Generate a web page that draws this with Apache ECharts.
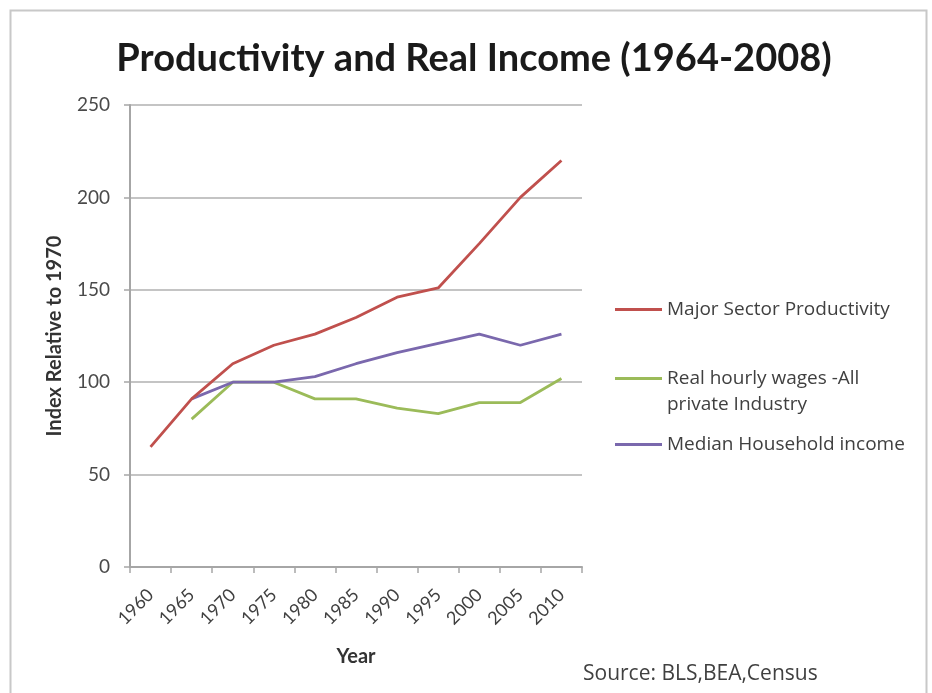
<!DOCTYPE html>
<html>
<head>
<meta charset="utf-8">
<script src="https://cdn.jsdelivr.net/npm/echarts@6/dist/echarts.min.js"></script>
<style>
html,body{margin:0;padding:0;background:#fff;}
#chart{width:932px;height:693px;}
</style>
</head>
<body>
<div id="chart"></div>
<script>
const years = ['1960','1965','1970','1975','1980','1985','1990','1995','2000','2005','2010'];
const productivity = [65, 91, 110, 120, 126, 135, 146, 151, 175, 200, 220];
const wages = [null, 80, 100, 100, 91, 91, 86, 83, 89, 89, 102];
const household = [null, 91, 100, 100, 103, 110, 116, 121, 126, 120, 126];
const yTicks = [0, 50, 100, 150, 200, 250];
const seriesNames = ['Major Sector Productivity', 'Real hourly wages -All', 'Median Household income'];
const colors = ['#c0504d', '#9bbb59', '#7a68ad'];

const FONT = 'Lato, "Open Sans", sans-serif';
const LFONT = '"Open Sans", Lato, sans-serif';
const chart = echarts.init(document.getElementById('chart'));

function lg(i, top) {
  return {
    data: [seriesNames[i]],
    left: 615, top: top, padding: 0,
    orient: 'vertical',
    icon: 'rect', itemWidth: 47, itemHeight: 3, itemGap: 0,
    selectedMode: false,
    textStyle: {fontFamily: LFONT, fontSize: 19, color: '#404040'}
  };
}

chart.setOption({
  animation: false,
  backgroundColor: '#fff',
  title: {
    text: 'Productivity and Real Income (1964-2008)',
    left: 474, top: 40, textAlign: 'center', padding: 0,
    textStyle: {fontFamily: FONT, fontSize: 38, fontWeight: 'bold', color: '#1a1a1a'}
  },
  graphic: [
    {type: 'rect', shape: {x: 10.5, y: 10.5, width: 916, height: 720}, style: {fill: 'none', stroke: '#c8c8c8', lineWidth: 2}, silent: true},
    {type: 'text', left: 583, top: 664, style: {text: 'Source: BLS,BEA,Census', fontFamily: LFONT, fontSize: 21, fill: '#404040'}},
    {type: 'text', left: 667, top: 395, style: {text: 'private Industry', fontFamily: LFONT, fontSize: 19, fill: '#404040'}}
  ],
  legend: [
    lg(0, 300),
    lg(1, 369),
    lg(2, 435)
  ],
  grid: {left: 130, right: 350, top: 105, bottom: 126, containLabel: false},
  xAxis: {
    type: 'category',
    data: years,
    boundaryGap: true,
    name: 'Year',
    nameLocation: 'middle',
    nameGap: 80,
    nameTextStyle: {fontFamily: FONT, fontSize: 20, fontWeight: 'bold', color: '#333'},
    axisLine: {lineStyle: {color: '#a6a6a6', width: 2}},
    axisTick: {show: true, length: 6, lineStyle: {color: '#a6a6a6', width: 1.5}},
    axisLabel: {rotate: 45, margin: 25, fontFamily: FONT, fontSize: 18, color: '#404040'},
    splitLine: {show: false}
  },
  yAxis: {
    type: 'value',
    min: 0, max: 250, interval: 50,
    name: 'Index Relative to 1970',
    nameLocation: 'middle',
    nameGap: 65,
    nameTextStyle: {fontFamily: FONT, fontSize: 20, fontWeight: 'bold', color: '#333'},
    axisLine: {show: true, lineStyle: {color: '#a6a6a6', width: 2}},
    axisTick: {show: true, length: 6, lineStyle: {color: '#a6a6a6', width: 1.5}},
    axisLabel: {margin: 20, fontFamily: FONT, fontSize: 19, color: '#4a4a4a',
      formatter: v => yTicks.includes(v) ? String(v) : ''},
    splitLine: {lineStyle: {color: '#c4c4c4', width: 2}}
  },
  series: [
    {name: seriesNames[1], type: 'line', data: wages, symbol: 'none', color: colors[1], lineStyle: {width: 2.8, color: colors[1]}, z: 2},
    {name: seriesNames[2], type: 'line', data: household, symbol: 'none', color: colors[2], lineStyle: {width: 2.8, color: colors[2]}, z: 3},
    {name: seriesNames[0], type: 'line', data: productivity, symbol: 'none', color: colors[0], lineStyle: {width: 2.8, color: colors[0]}, z: 4}
  ]
});
</script>
</body>
</html>
